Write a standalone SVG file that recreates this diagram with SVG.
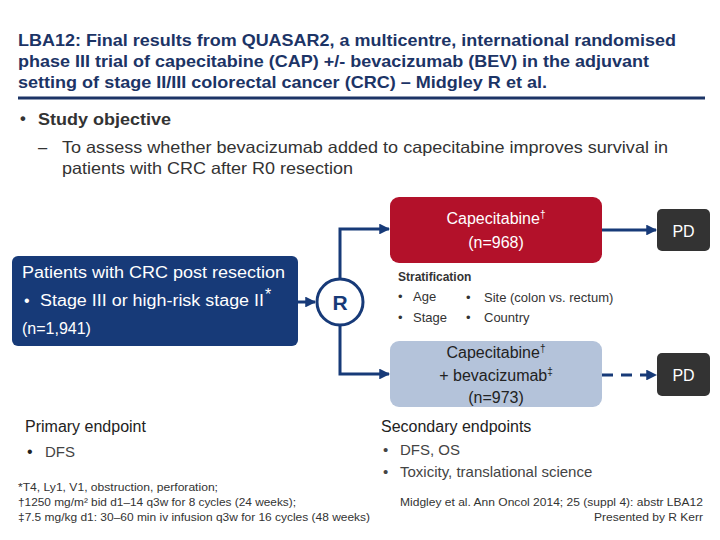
<svg xmlns="http://www.w3.org/2000/svg" width="720" height="540" viewBox="0 0 720 540">
<defs>
<style>
text{font-family:"Liberation Sans",Arial,sans-serif}
.title{font-size:16.5px;font-weight:bold;fill:#1c3466}
.obj{font-size:16.5px;fill:#333}
.wt{fill:#fff;font-size:16px}
.dk{fill:#222;font-size:16px}
.sm{fill:#333;font-size:13px}
.fn{fill:#333;font-size:11.5px}
.conn{stroke:#173a78;stroke-width:3;fill:none}
</style>
<marker id="ah" viewBox="0 0 10 10" refX="9" refY="5" markerWidth="3.6" markerHeight="3.6" orient="auto" markerUnits="strokeWidth">
<path d="M0,0 L10,5 L0,10 z" fill="#173a78"/>
</marker>
</defs>
<rect width="720" height="540" fill="#fff"/>
<g id="title">
<text class="title" x="18" y="46" textLength="658" lengthAdjust="spacingAndGlyphs">LBA12: Final results from QUASAR2, a multicentre, international randomised</text>
<text class="title" x="18" y="67" textLength="631" lengthAdjust="spacingAndGlyphs">phase III trial of capecitabine (CAP) +/- bevacizumab (BEV) in the adjuvant</text>
<text class="title" x="18" y="88" textLength="529" lengthAdjust="spacingAndGlyphs">setting of stage II/III colorectal cancer (CRC) – Midgley R et al.</text>
<line x1="18" y1="98" x2="705" y2="98" stroke="#1c3466" stroke-width="3"/>
</g>
<g id="objective">
<text class="obj" x="20" y="124" font-weight="bold">•</text>
<text class="obj" x="38" y="125" font-weight="bold" textLength="133" lengthAdjust="spacingAndGlyphs">Study objective</text>
<text class="obj" x="38" y="153">–</text>
<text class="obj" x="62" y="153" textLength="606" lengthAdjust="spacingAndGlyphs">To assess whether bevacizumab added to capecitabine improves survival in</text>
<text class="obj" x="62" y="174" textLength="291" lengthAdjust="spacingAndGlyphs">patients with CRC after R0 resection</text>
</g>
<g id="connectors">
<line class="conn" x1="298" y1="302" x2="315" y2="302" marker-end="url(#ah)"/>
<polyline class="conn" points="340,278 340,229 389,229" marker-end="url(#ah)"/>
<polyline class="conn" points="340,326 340,374 389,374" marker-end="url(#ah)"/>
<line class="conn" x1="602" y1="230" x2="656" y2="230" marker-end="url(#ah)"/>
<line class="conn" x1="602" y1="375" x2="656" y2="375" stroke-dasharray="11,8" marker-end="url(#ah)"/>
</g>
<g id="patients">
<rect x="12" y="256" width="286" height="90" rx="6" fill="#173a78"/>
<text class="wt" x="22" y="278" textLength="263" lengthAdjust="spacingAndGlyphs">Patients with CRC post resection</text>
<text class="wt" x="24" y="306">•</text>
<text class="wt" x="40" y="306" textLength="224" lengthAdjust="spacingAndGlyphs">Stage III or high-risk stage II</text>
<text class="wt" x="265" y="300" font-size="9">*</text>
<text class="wt" x="22" y="334">(n=1,941)</text>
</g>
<g id="randomise">
<circle cx="340" cy="302" r="23" fill="#fff" stroke="#173a78" stroke-width="3"/>
<text x="340" y="310" text-anchor="middle" font-size="21" font-weight="bold" fill="#173a78">R</text>
</g>
<g id="cap">
<rect x="390" y="197" width="212" height="66" rx="9" fill="#b3112a"/>
<text class="wt" x="496" y="224" text-anchor="middle">Capecitabine<tspan font-size="10" dy="-6">†</tspan></text>
<text class="wt" x="496" y="248" text-anchor="middle">(n=968)</text>
</g>
<g id="pd1">
<rect x="657" y="209" width="53" height="42" rx="5" fill="#333"/>
<text class="wt" x="683.5" y="237" text-anchor="middle" font-size="17">PD</text>
</g>
<g id="stratification">
<text x="398" y="281" font-size="12" font-weight="bold" fill="#333">Stratification</text>
<text class="sm" x="398" y="301">•</text>
<text class="sm" x="413" y="301">Age</text>
<text class="sm" x="466" y="302">•</text>
<text class="sm" x="484" y="302">Site (colon vs. rectum)</text>
<text class="sm" x="398" y="322">•</text>
<text class="sm" x="413" y="322">Stage</text>
<text class="sm" x="466" y="322">•</text>
<text class="sm" x="484" y="322">Country</text>
</g>
<g id="capbev">
<rect x="390" y="341" width="212" height="66" rx="9" fill="#b4c3da"/>
<text class="dk" x="496" y="358" text-anchor="middle">Capecitabine<tspan font-size="10" dy="-6">†</tspan></text>
<text class="dk" x="496" y="381" text-anchor="middle">+ bevacizumab<tspan font-size="10" dy="-6">‡</tspan></text>
<text class="dk" x="496" y="403" text-anchor="middle">(n=973)</text>
</g>
<g id="pd2">
<rect x="657" y="353" width="53" height="43" rx="5" fill="#333"/>
<text class="wt" x="683.5" y="381" text-anchor="middle" font-size="17">PD</text>
</g>
<g id="primary">
<text class="dk" x="25" y="432" font-size="15">Primary endpoint</text>
<text class="dk" x="27" y="457" font-size="15" fill="#444">•</text>
<text x="45" y="457" font-size="15" fill="#444">DFS</text>
</g>
<g id="secondary">
<text class="dk" x="381" y="432" font-size="15">Secondary endpoints</text>
<text x="383" y="455" font-size="15" fill="#444">•</text>
<text x="400" y="455" font-size="15" fill="#444">DFS, OS</text>
<text x="383" y="477" font-size="15" fill="#444">•</text>
<text x="400" y="477" font-size="15" fill="#444">Toxicity, translational science</text>
</g>
<g id="footnotes">
<text class="fn" x="18" y="491" textLength="200" lengthAdjust="spacingAndGlyphs">*T4, Ly1, V1, obstruction, perforation;</text>
<text class="fn" x="18" y="506" textLength="278" lengthAdjust="spacingAndGlyphs">†1250 mg/m² bid d1–14 q3w for 8 cycles (24 weeks);</text>
<text class="fn" x="18" y="521" textLength="352" lengthAdjust="spacingAndGlyphs">‡7.5 mg/kg d1: 30–60 min iv infusion q3w for 16 cycles (48 weeks)</text>
<text class="fn" x="703" y="506" text-anchor="end" textLength="303" lengthAdjust="spacingAndGlyphs">Midgley et al. Ann Oncol 2014; 25 (suppl 4): abstr LBA12</text>
<text class="fn" x="703" y="521" text-anchor="end" textLength="109" lengthAdjust="spacingAndGlyphs">Presented by R Kerr</text>
</g>
</svg>
